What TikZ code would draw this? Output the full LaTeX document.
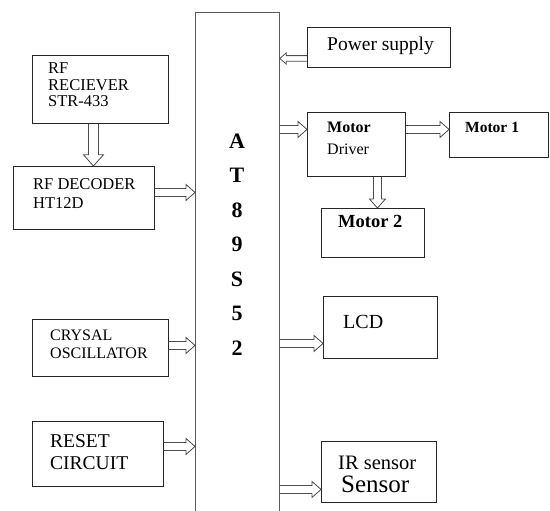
\documentclass[tikz,border=0pt]{standalone}
\usepackage{fontspec}
\setmainfont{Liberation Serif}
\usetikzlibrary{positioning, calc}

% hollow block arrow from #2 to #3, #1 scales it
\newcommand{\hollowarrow}[3][1]{%
  \pgfmathsetmacro\arrsw{4*#1}%
  \pgfmathsetmacro\arrhw{8*#1}%
  \pgfmathsetmacro\arrhl{9*#1}%
  \draw[arrowline] let \p1=(#2), \p2=(#3), \p3=($(#3)!\arrhl pt!(#2)$) in
    ($(\p1)!\arrsw pt!90:(\p2)$) -- ($(\p3)!\arrsw pt!90:(\p2)$)
    -- ($(\p3)!\arrhw pt!90:(\p2)$) -- (\p2) -- ($(\p3)!\arrhw pt!-90:(\p2)$)
    -- ($(\p3)!\arrsw pt!-90:(\p2)$) -- ($(\p1)!\arrsw pt!-90:(\p2)$);}

\begin{document}
\begin{tikzpicture}[x=1pt, y=-1pt,
  box/.style={draw=black!85, line width=0.9pt, anchor=north west, inner sep=0pt},
  lbl/.style={anchor=base west, align=left, inner sep=0pt},
  arrowline/.style={draw=black!70, line width=0.8pt, line join=miter}]
\useasboundingbox (0,0) rectangle (550,511);
% Microcontroller
\node[box, draw=black!65, minimum width=84, minimum height=510] (mcu) at (195,12) {};
\node[anchor=base, align=center, inner sep=0pt, font=\fontsize{22}{34.5}\selectfont\bfseries] (mcutxt) at (237,355) {A\\T\\8\\9\\S\\5\\2};
% Left side blocks
\node[box, minimum width=136, minimum height=68] (rx) at (32,55) {};
\node[lbl, font=\fontsize{16.5}{16.5}\selectfont] (rxtxt) at (48,107) {RF\\RECIEVER\\STR-433};
\node[box, minimum width=141, minimum height=63] (dec) at (13,166) {};
\node[lbl, font=\fontsize{16.5}{19}\selectfont] (dectxt) at (33,208) {RF DECODER\\HT12D};
\node[box, minimum width=136, minimum height=57] (osc) at (32,319) {};
\node[lbl, font=\fontsize{16}{18}\selectfont] (osctxt) at (50,358) {CRYSAL\\OSCILLATOR};
\node[box, minimum width=131, minimum height=65] (rst) at (32,421) {};
\node[lbl, font=\fontsize{19.5}{22}\selectfont] (rsttxt) at (50,469) {RESET\\CIRCUIT};
% Right side blocks
\node[box, minimum width=143, minimum height=40] (pwr) at (307,27) {};
\node[lbl, font=\fontsize{19.5}{20}\selectfont] (pwrtxt) at (327,51) {Power supply};
\node[box, minimum width=98, minimum height=64] (drv) at (307,112) {};
\node[lbl, font=\fontsize{16}{21}\selectfont] (drvtxt) at (327,154) {\textbf{Motor}\\Driver};
\node[box, minimum width=99, minimum height=45] (mot1) at (449,112) {};
\node[lbl, font=\fontsize{15.5}{16}\selectfont\bfseries] (mot1txt) at (465,133) {Motor 1};
\node[box, minimum width=103, minimum height=49] (mot2) at (321,208) {};
\node[lbl, font=\fontsize{18.5}{19}\selectfont\bfseries] (mot2txt) at (338,228) {Motor 2};
\node[box, minimum width=114, minimum height=62] (lcd) at (323,296) {};
\node[lbl, font=\fontsize{20}{21}\selectfont] (lcdtxt) at (343,328) {LCD};
\node[box, minimum width=115, minimum height=61] (ir) at (321,441) {};
\node[lbl, font=\fontsize{20.5}{21}\selectfont] (irtxt) at (338,469) {IR sensor};
\node[lbl, font=\fontsize{25}{26}\selectfont] (irtxt2) at (341,492) {Sensor};
% Hollow arrows
\hollowarrow[1.25]{[xshift=-7pt]rx.south}{[xshift=-7pt]rx.south |- dec.north}
\hollowarrow{[yshift=5.5pt]dec.east}{[yshift=5.5pt]dec.east -| mcu.west}
\hollowarrow{[yshift=2.5pt]osc.east}{[yshift=2.5pt]osc.east -| mcu.west}
\hollowarrow{[yshift=7.5pt]rst.east}{[yshift=7.5pt]rst.east -| mcu.west}
\hollowarrow[0.7]{[yshift=-11pt]pwr.west}{[yshift=-11pt]pwr.west -| mcu.east}
\hollowarrow{[yshift=15pt]drv.west -| mcu.east}{[yshift=15pt]drv.west}
\hollowarrow{[yshift=15pt]drv.east}{[yshift=15pt]drv.east -| mot1.west}
\hollowarrow{[xshift=21pt]drv.south}{[xshift=21pt]drv.south |- mot2.north}
\hollowarrow{[yshift=-16pt]lcd.west -| mcu.east}{[yshift=-16pt]lcd.west}
\hollowarrow{[yshift=-17.5pt]ir.west -| mcu.east}{[yshift=-17.5pt]ir.west}
\end{tikzpicture}
\end{document}
